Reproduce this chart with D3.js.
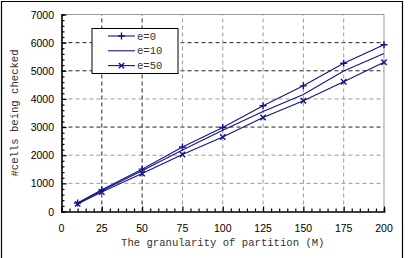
<!DOCTYPE html>
<html>
<head>
<meta charset="utf-8">
<script src="https://cdn.jsdelivr.net/npm/d3@7"></script>
<style>
body { margin: 0; background: #fff; }
</style>
</head>
<body>
<script>
// data
var granularity = [10, 25, 50, 75, 100, 125, 150, 175, 200];
var e0 = [300, 770, 1505, 2290, 2985, 3755, 4465, 5270, 5925];
var e10 = [290, 740, 1445, 2185, 2885, 3555, 4160, 4990, 5615];
var e50 = [270, 690, 1350, 2025, 2645, 3340, 3935, 4610, 5305];
var seriesNames = ["e=0", "e=10", "e=50"];
var yTicks = [0, 1000, 2000, 3000, 4000, 5000, 6000, 7000];
var xTicks = [0, 25, 50, 75, 100, 125, 150, 175, 200];
var darkY = [3000, 5000, 6000]; // these grid lines come out black in the picture
var darkX = [25, 50];

var width = 408, height = 258;
var navy = "#14148a";
var mono = "'Liberation Mono', 'Courier New', monospace";

var svg = d3.select("body").append("svg")
    .attr("width", width)
    .attr("height", height);

// outer frame (bottom is cut off in the original)
svg.append("path")
    .attr("d", "M1.5,262 L1.5,1.5 L402.5,1.5 L402.5,262")
    .attr("fill", "none")
    .attr("stroke", "#000")
    .attr("stroke-width", 1.2);

var x = d3.scaleLinear().domain([0, 200]).range([61.5, 384]);
var y = d3.scaleLinear().domain([0, 7000]).range([211.5, 14.5]);

// grid
var grid = svg.append("g");
grid.selectAll(".gy").data(yTicks.slice(1, -1)).enter().append("line")
    .attr("x1", x(0)).attr("x2", x(200))
    .attr("y1", d => y(d)).attr("y2", d => y(d))
    .attr("stroke", d => darkY.indexOf(d) >= 0 ? "#222" : "#9a9a9a")
    .attr("stroke-width", 1)
    .attr("stroke-dasharray", "4,3");
grid.selectAll(".gx").data(xTicks.slice(1, -1)).enter().append("line")
    .attr("y1", y(0)).attr("y2", y(7000))
    .attr("x1", d => x(d)).attr("x2", d => x(d))
    .attr("stroke", d => darkX.indexOf(d) >= 0 ? "#222" : "#9a9a9a")
    .attr("stroke-width", 1)
    .attr("stroke-dasharray", "4,3");

// top + right edge of plot in gray
svg.append("path")
    .attr("d", "M" + x(0) + "," + y(7000) + " L" + x(200) + "," + y(7000) + " L" + x(200) + "," + y(0))
    .attr("fill", "none")
    .attr("stroke", "#9a9a9a");

// axes, ticks pointing inward
var xAxis = svg.append("g")
    .attr("transform", "translate(0," + y(0) + ")")
    .call(d3.axisTop(x).tickValues(d3.range(0, 201, 5)).tickSize(3).tickFormat(""));
xAxis.selectAll(".tick line").filter(d => d % 25 == 0).attr("y2", -5);
var yAxis = svg.append("g")
    .attr("transform", "translate(" + x(0) + ",0)")
    .call(d3.axisRight(y).tickValues(d3.range(0, 7001, 200)).tickSize(3).tickFormat(""));
yAxis.selectAll(".tick line").filter(d => d % 1000 == 0).attr("x2", 5);
svg.selectAll(".domain").attr("stroke", "#000").attr("stroke-width", 1.6);
svg.selectAll(".tick line").attr("stroke", "#000").attr("stroke-width", 1.2);

// tick labels
svg.append("g").selectAll("text").data(xTicks).enter().append("text")
    .attr("x", d => x(d))
    .attr("y", 232)
    .attr("text-anchor", "middle")
    .attr("font-family", "'Liberation Sans', Arial, sans-serif")
    .attr("font-size", "10.5px")
    .text(d => d);
svg.append("g").selectAll("text").data(yTicks).enter().append("text")
    .attr("x", 54)
    .attr("y", d => y(d) + 4)
    .attr("text-anchor", "end")
    .attr("font-family", "'Liberation Sans', Arial, sans-serif")
    .attr("font-size", "10.5px")
    .text(d => d);

// axis titles in courier-ish mono
svg.append("text")
    .attr("x", (x(0) + x(200)) / 2)
    .attr("y", 246)
    .attr("text-anchor", "middle")
    .attr("font-family", mono)
    .attr("font-size", "10.6px")
    .attr("fill", "#333")
    .text("The granularity of partition (M)");
svg.append("text")
    .attr("transform", "translate(18," + (y(0) + y(7000)) / 2 + ") rotate(-90)")
    .attr("text-anchor", "middle")
    .attr("font-family", mono)
    .attr("font-size", "10.6px")
    .attr("fill", "#333")
    .text("#cells being checked");

// markers
function plus(s) { return "M" + (-s) + ",0H" + s + "M0," + (-s) + "V" + s; }
function cross(s) { return "M" + (-s) + "," + (-s) + "L" + s + "," + s + "M" + (-s) + "," + s + "L" + s + "," + (-s); }
var markers = [plus(3.5), null, cross(2.7)];

var allSeries = [e0, e10, e50];
var line = d3.line().x((d, i) => x(granularity[i])).y(d => y(d));

allSeries.forEach(function(vals, k) {
    svg.append("path")
        .attr("d", line(vals))
        .attr("fill", "none")
        .attr("stroke", navy)
        .attr("stroke-width", 1.1);
    if (markers[k]) {
        svg.append("g").selectAll("path").data(vals).enter().append("path")
            .attr("transform", (d, i) => "translate(" + x(granularity[i]) + "," + y(d) + ")")
            .attr("d", markers[k])
            .attr("fill", "none")
            .attr("stroke", navy)
            .attr("stroke-width", 1.4);
    }
});

// legend box
var legend = svg.append("g");
legend.append("rect")
    .attr("x", 92).attr("y", 28.5)
    .attr("width", 86).attr("height", 45)
    .attr("fill", "#fff")
    .attr("stroke", "#000")
    .attr("stroke-width", 1);
var rows = legend.selectAll(".row").data(seriesNames).enter().append("g")
    .attr("transform", (d, i) => "translate(0," + (36 + i * 14.8) + ")");
rows.append("line")
    .attr("x1", 108).attr("x2", 135)
    .attr("y1", 0).attr("y2", 0)
    .attr("stroke", navy).attr("stroke-width", 1.1);
rows.filter(d => markers[seriesNames.indexOf(d)] != null).append("path")
    .attr("transform", "translate(121.5,0)")
    .attr("d", d => markers[seriesNames.indexOf(d)]) // index after filter is off, so look it up
    .attr("fill", "none")
    .attr("stroke", navy)
    .attr("stroke-width", 1.4);
rows.append("text")
    .attr("x", 137).attr("y", 3.5)
    .attr("font-family", mono)
    .attr("font-size", "10.6px")
    .attr("fill", "#333")
    .text(d => d);
</script>
</body>
</html>
